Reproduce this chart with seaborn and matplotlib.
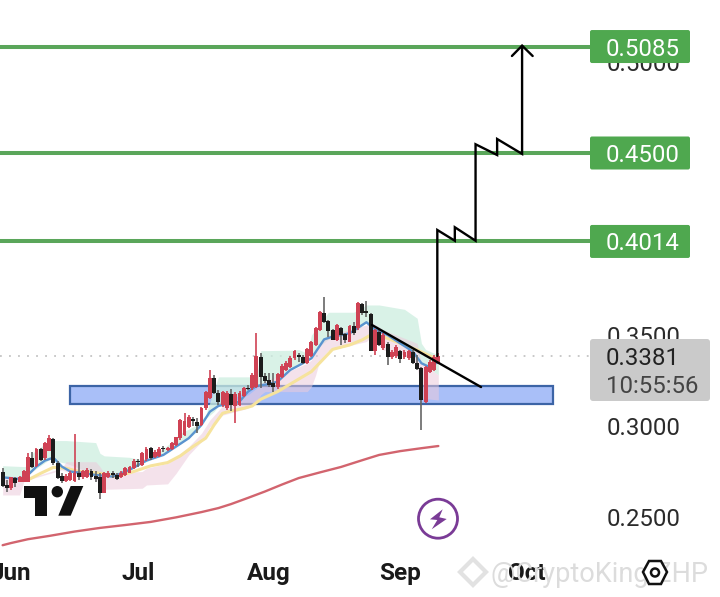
import numpy as np
import pandas as pd
import seaborn as sns
import matplotlib
matplotlib.use("Agg")
import matplotlib.pyplot as plt
import matplotlib.dates as mdates
from matplotlib.patches import Polygon, Circle, Rectangle, FancyBboxPatch

sns.set_theme(style="white")
plt.rcParams["font.family"] = ["Roboto", "DejaVu Sans"]

first_day = "2025-05-30"
opens = [.2748,.2677,.2658,.2713,.2695,.2695,.2695,.2825,.2781,.2874,.2823,.2865,.2927,.2799,.2726,.2700,.2704,.2700,.2744,.2722,
         .2722,.2750,.2728,.2719,.2634,.2719,.2741,.2733,.2719,.2731,.2744,.2768,.2810,.2786,.2817,.2878,.2828,.2835,.2881,.2869,
         .2872,.2896,.2933,.2950,.2997,.3037,.3024,.3006,.3097,.3152,.3262,.3180,.3116,.3099,.3177,.3110,.3116,.3165,.3209,.3207,
         .3216,.3381,.3275,.3253,.3235,.3213,.3271,.3308,.3323,.3372,.3390,.3381,.3348,.3385,.3445,.3528,.3623,.3575,.3528,.3473,
         .3537,.3504,.3464,.3549,.3537,.3670,.3634,.3614,.3414,.3519,.3427,.3451,.3377,.3385,.3414,.3377,.3372,.3409,.3345,.3317,
         .3134,.3299,.3308,.3345]
closes = [.2673,.2658,.2719,.2689,.2719,.2750,.2828,.2777,.2872,.2814,.2905,.2932,.2795,.2717,.2700,.2726,.2744,.2740,.2718,.2750,
          .2759,.2722,.2710,.2634,.2741,.2744,.2732,.2711,.2744,.2768,.2773,.2810,.2801,.2854,.2874,.2823,.2859,.2875,.2872,.2881,
          .2905,.2938,.3033,.3025,.3052,.3030,.3000,.3097,.3189,.3262,.3180,.3134,.3185,.3182,.3118,.3178,.3180,.3207,.3202,.3281,
          .3385,.3271,.3249,.3226,.3217,.3284,.3332,.3348,.3376,.3414,.3381,.3348,.3423,.3460,.3537,.3625,.3574,.3524,.3473,.3555,
          .3500,.3473,.3551,.3509,.3674,.3619,.3619,.3414,.3528,.3445,.3500,.3381,.3409,.3436,.3368,.3409,.3414,.3345,.3312,.3143,
          .3323,.3354,.3381,.3385]
highs = [.2768,.2704,.2719,.2722,.2728,.2760,.2854,.2859,.2880,.2878,.2912,.2951,.2932,.2805,.2744,.2735,.2750,.2957,.2804,.2760,
         .2770,.2765,.2750,.2740,.2745,.2750,.2753,.2740,.2750,.2775,.2780,.2818,.2818,.2858,.2885,.2885,.2868,.2882,.2890,.2885,
         .2912,.2942,.3040,.3073,.3060,.3052,.3042,.3105,.3195,.3308,.3280,.3198,.3195,.3190,.3204,.3185,.3190,.3215,.3226,.3290,
         .3513,.3403,.3290,.3290,.3290,.3290,.3340,.3355,.3385,.3420,.3403,.3390,.3430,.3465,.3545,.3630,.3707,.3585,.3535,.3560,
         .3545,.3510,.3555,.3573,.3680,.3677,.3687,.3620,.3535,.3525,.3510,.3460,.3420,.3445,.3420,.3415,.3420,.3415,.3390,.3325,
         .3330,.3360,.3390,.3400]
lows = [.2667,.2640,.2650,.2667,.2690,.2690,.2690,.2768,.2775,.2808,.2815,.2860,.2785,.2710,.2686,.2695,.2700,.2695,.2704,.2710,
        .2715,.2704,.2695,.2598,.2630,.2715,.2713,.2705,.2715,.2725,.2740,.2762,.2777,.2780,.2810,.2815,.2822,.2830,.2859,.2865,
        .2868,.2890,.2925,.2945,.2990,.2999,.2960,.3000,.3090,.3148,.3175,.3115,.3105,.3090,.3081,.3015,.3110,.3160,.3198,.3200,
        .3210,.3207,.3235,.3217,.3189,.3205,.3265,.3300,.3318,.3365,.3354,.3340,.3340,.3380,.3440,.3520,.3565,.3490,.3470,.3465,
        .3445,.3455,.3460,.3500,.3530,.3610,.3600,.3410,.3390,.3440,.3420,.3335,.3370,.3375,.3345,.3370,.3365,.3340,.3305,.2979,
        .3125,.3290,.3300,.3340]

blue_i = [0,4,6,8,10,12,14,16,18,22,26,30,34,38,41,44,47,49,51,52,54,56,58,60,63,65,68,71,73,76,78,82,85,86,88,91,94,97,99,101,103]
blue_v = [.2718,.2709,.2731,.2777,.2810,.2826,.2777,.2750,.2744,.2731,.2722,.2759,.2810,.2841,.2887,.2933,.3006,.3079,.3110,.3116,.3121,
          .3134,.3189,.3220,.3231,.3244,.3308,.3345,.3372,.3476,.3491,.3509,.3555,.3570,.3531,.3500,.3454,.3409,.3345,.3323,.3354]
yellow_i = [6,9,12,15,18,22,27,31,35,39,42,45,48,50,52,54,57,59,61,65,69,73,76,78,82,85,87,90,94,98,103]
yellow_v = [.2704,.2740,.2773,.2768,.2750,.2744,.2722,.2750,.2781,.2799,.2836,.2887,.2933,.3006,.3070,.3083,.3097,.3110,.3147,.3189,.3244,
            .3299,.3372,.3421,.3445,.3473,.3500,.3491,.3454,.3418,.3363]
long_i = [0,2,6,11,17,23,29,35,41,47,51,54,58,62,66,70,75,80,85,89,94,99,103]
long_v = [.2345,.2357,.2378,.2396,.2420,.2440,.2456,.2473,.2498,.2527,.2549,.2571,.2605,.2640,.2678,.2714,.2745,.2775,.2812,.2841,.2862,.2878,.2890]

green_i = [0,5,6,7,11,15,22,23,24,30,32,35,41,42,46,48,50,51,60,61,68,70,72,73,75,77,83,86,89,95,98,99,100,103]
green_top = [.2782,.2777,.2780,.2850,.2920,.2920,.2909,.2850,.2836,.2828,.2818,.2825,.2930,.2960,.3006,.3060,.3200,.3270,.3270,.3414,.3416,
             .3420,.3400,.3500,.3560,.3625,.3625,.3665,.3665,.3641,.3592,.3454,.3420,.3390]
green_low = [.2722,.2718,.2735,.2750,.2815,.2795,.2735,.2730,.2728,.2759,.2785,.2815,.2890,.2900,.2970,.3040,.3080,.3110,.3220,.3225,.3310,
             .3340,.3350,.3375,.3440,.3476,.3510,.3570,.3540,.3450,.3400,.3345,.3330,.3281]
pink_i = [0,4,5,6,14,15,22,23,24,33,34,39,41,44,47,49,52,58,60,61,62,71,72,73,74,75,77,86,87,90,95,98,99,103]
pink_top = [.2722,.2722,.2713,.2713,.2768,.2804,.2804,.2777,.2741,.2750,.2768,.2795,.2828,.2887,.2960,.3033,.3110,.3171,.3207,.3235,.3244,
            .3335,.3345,.3363,.3418,.3454,.3500,.3555,.3573,.3528,.3482,.3454,.3345,.3281]
pink_low = [.2621,.2621,.2694,.2704,.2759,.2750,.2726,.2652,.2652,.2658,.2676,.2682,.2740,.2841,.2914,.2996,.3060,.3098,.3134,.3171,.3189,
            .3189,.3189,.3216,.3280,.3363,.3414,.3464,.3487,.3418,.3390,.3335,.3153,.3143]

level_values = [0.5085, 0.4500, 0.4014]
level_labels = ["0.5085", "0.4500", "0.4014"]
axis_prices = [0.25, 0.30, 0.35, 0.50]
axis_labels = ["0.2500", "0.3000", "0.3500", "0.5000"]
last_price = 0.3385
zone_low, zone_high = 0.3121, 0.3220
zone_days = ["2025-06-15", "2025-10-07"]
month_ticks = ["2025-06-01", "2025-07-01", "2025-08-01", "2025-09-01", "2025-10-01"]
month_labels = ["Jun", "Jul", "Aug", "Sep", "Oct"]
path_offset = [70.76, 70.76, 74.9, 74.9, 79.8, 79.8, 84.9, 84.9, 90.8, 90.8]
path_price = [.3385, .4077, .4018, .4092, .4018, .4548, .4489, .4577, .4495, .5090]
head_offset = [88.4, 90.8, 93.3]
head_price = [.5033, .5090, .5033]
trend_offset = [55.3, 81.1]
trend_price = [.3555, .3214]

start = mdates.date2num(pd.Timestamp(first_day))
days = start + np.arange(len(opens))
opens, closes, highs, lows = map(np.array, (opens, closes, highs, lows))
jul1 = mdates.date2num(pd.Timestamp("2025-07-01"))

W, H = 720, 597
fig = plt.figure(figsize=(W / 100, H / 100), dpi=100, facecolor="white")
ax_right, ax_bottom = 590, 555
ax = fig.add_axes([0, 1 - ax_bottom / H, ax_right / W, ax_bottom / H])
ax.set_xlim(jul1 + (0 - 138) / 4.23, jul1 + (ax_right - 138) / 4.23)
ax.set_ylim(0.3 + (426 - ax_bottom) / 1820, 0.3 + 426 / 1820)
sns.despine(ax=ax, left=True, bottom=True, top=True, right=True)

# Support zone
z0, z1 = [mdates.date2num(pd.Timestamp(d)) for d in zone_days]
ax.add_patch(Rectangle((z0, zone_low), z1 - z0, zone_high - zone_low,
                       facecolor="#a9bff8", edgecolor="#3c64a6", lw=1.6, zorder=1))

# Cloud
ax.fill_between(start + np.array(green_i), green_low, green_top, color="#cdeee0", alpha=0.75, lw=0, zorder=2)
ax.fill_between(start + np.array(pink_i), pink_low, pink_top, color="#eccbdc", alpha=0.55, lw=0, zorder=2)

# Guides
ax.axhline(last_price, color="#c4c4c4", lw=1.3, ls=(0, (1, 4)), zorder=1)
for lv in level_values:
    ax.axhline(lv, color="#5aa65a", lw=2.9, zorder=3)

# Moving averages
sns.lineplot(x=start + np.array(long_i), y=long_v, ax=ax, color="#d2646e", lw=1.7, zorder=3)
sns.lineplot(x=start + np.array(yellow_i), y=yellow_v, ax=ax, color="#f6e39c", lw=2.2, zorder=3)
sns.lineplot(x=start + np.array(blue_i), y=blue_v, ax=ax, color="#5a93cf", lw=1.7, zorder=3)

# Candles
up = closes >= opens
colors = np.where(up, "#cf4254", "#1c1c1c")
wick = np.where(up, "#cf4254", "#666666")
ax.vlines(days, lows, highs, colors=wick, lw=1.2, zorder=4)
ax.bar(days, np.abs(closes - opens), bottom=np.minimum(opens, closes), width=0.92, color=colors, lw=0, zorder=5)

# Drawn projection
ax.plot(jul1 + np.array(trend_offset), trend_price, color="black", lw=1.7, zorder=6)
ax.plot(jul1 + np.array(path_offset), path_price, color="black", lw=1.7, zorder=6, solid_joinstyle="miter")
ax.plot(jul1 + np.array(head_offset), head_price, color="black", lw=1.7, zorder=6)

# Axis labels
ax.yaxis.tick_right()
ax.set_yticks(axis_prices, axis_labels)
ax.tick_params(axis="y", length=0, pad=12, labelsize=17.3, labelcolor="#2b2b2b")
ax.set_xticks([mdates.date2num(pd.Timestamp(d)) for d in month_ticks], month_labels)
ax.tick_params(axis="x", length=0, pad=5, labelsize=17.5, labelcolor="#1a1a1a")
for t in ax.get_xticklabels():
    t.set_fontweight("bold")

# Level tags and overlays in pixel space
ov = fig.add_axes([0, 0, 1, 1], facecolor="none")
ov.set_xlim(0, W)
ov.set_ylim(H, 0)
ov.axis("off")
for lv, lab in zip(level_values, level_labels):
    y = 426 - (lv - 0.3) * 1820
    ov.add_patch(FancyBboxPatch((592, y - 14.5), 96, 29, boxstyle="round,pad=2,rounding_size=2",
                                facecolor="#4fa84f", edgecolor="none"))
    ov.text(643, y, lab, color="white", fontsize=17.3, ha="center", va="center_baseline")
ov.add_patch(FancyBboxPatch((592, 341), 116, 58, boxstyle="round,pad=2,rounding_size=3",
                            facecolor="#cacaca", edgecolor="none"))
ov.text(606, 356, "0.3381", color="#222222", fontsize=17.3, va="center_baseline")
ov.text(606, 384, "10:55:56", color="#444444", fontsize=17.3, va="center_baseline")

# TradingView mark
ov.add_patch(Polygon([(24, 486), (47.3, 486), (47.3, 515.7), (35, 515.7), (35, 498.3), (24, 498.3)], color="#111111", lw=0))
ov.add_patch(Circle((57.3, 491.7), 5.7, color="#111111", lw=0))
ov.add_patch(Polygon([(70.7, 486), (83.3, 486), (70.7, 515.7), (58.3, 515.7)], color="#111111", lw=0))

# Lightning badge
ov.add_patch(Circle((438, 518.7), 19.5, facecolor="white", edgecolor="#7a3b96", lw=2.0))
ov.add_patch(Polygon([(442.7, 509.3), (430, 519.3), (437.3, 520), (431.7, 529.3), (446.7, 519), (439.3, 517.3)],
                     color="#7a3b96", lw=0))

# Watermark
ov.add_patch(Polygon([(473, 559), (486, 572), (473, 585), (460, 572)], facecolor="none", edgecolor="#e2e2e2", lw=3))
ov.text(491, 572, "@CryptoKing ZHP", color="#dcdcdc", fontsize=19.5, va="center_baseline", zorder=1)
ov.add_patch(Polygon([(643, 572), (649, 561), (661, 561), (667, 572), (661, 584), (649, 584)],
                     facecolor="white", edgecolor="#111111", lw=1.8))
ov.add_patch(Circle((655, 572.5), 4, facecolor="white", edgecolor="#111111", lw=1.8))

fig.savefig("out.png", dpi=100)
